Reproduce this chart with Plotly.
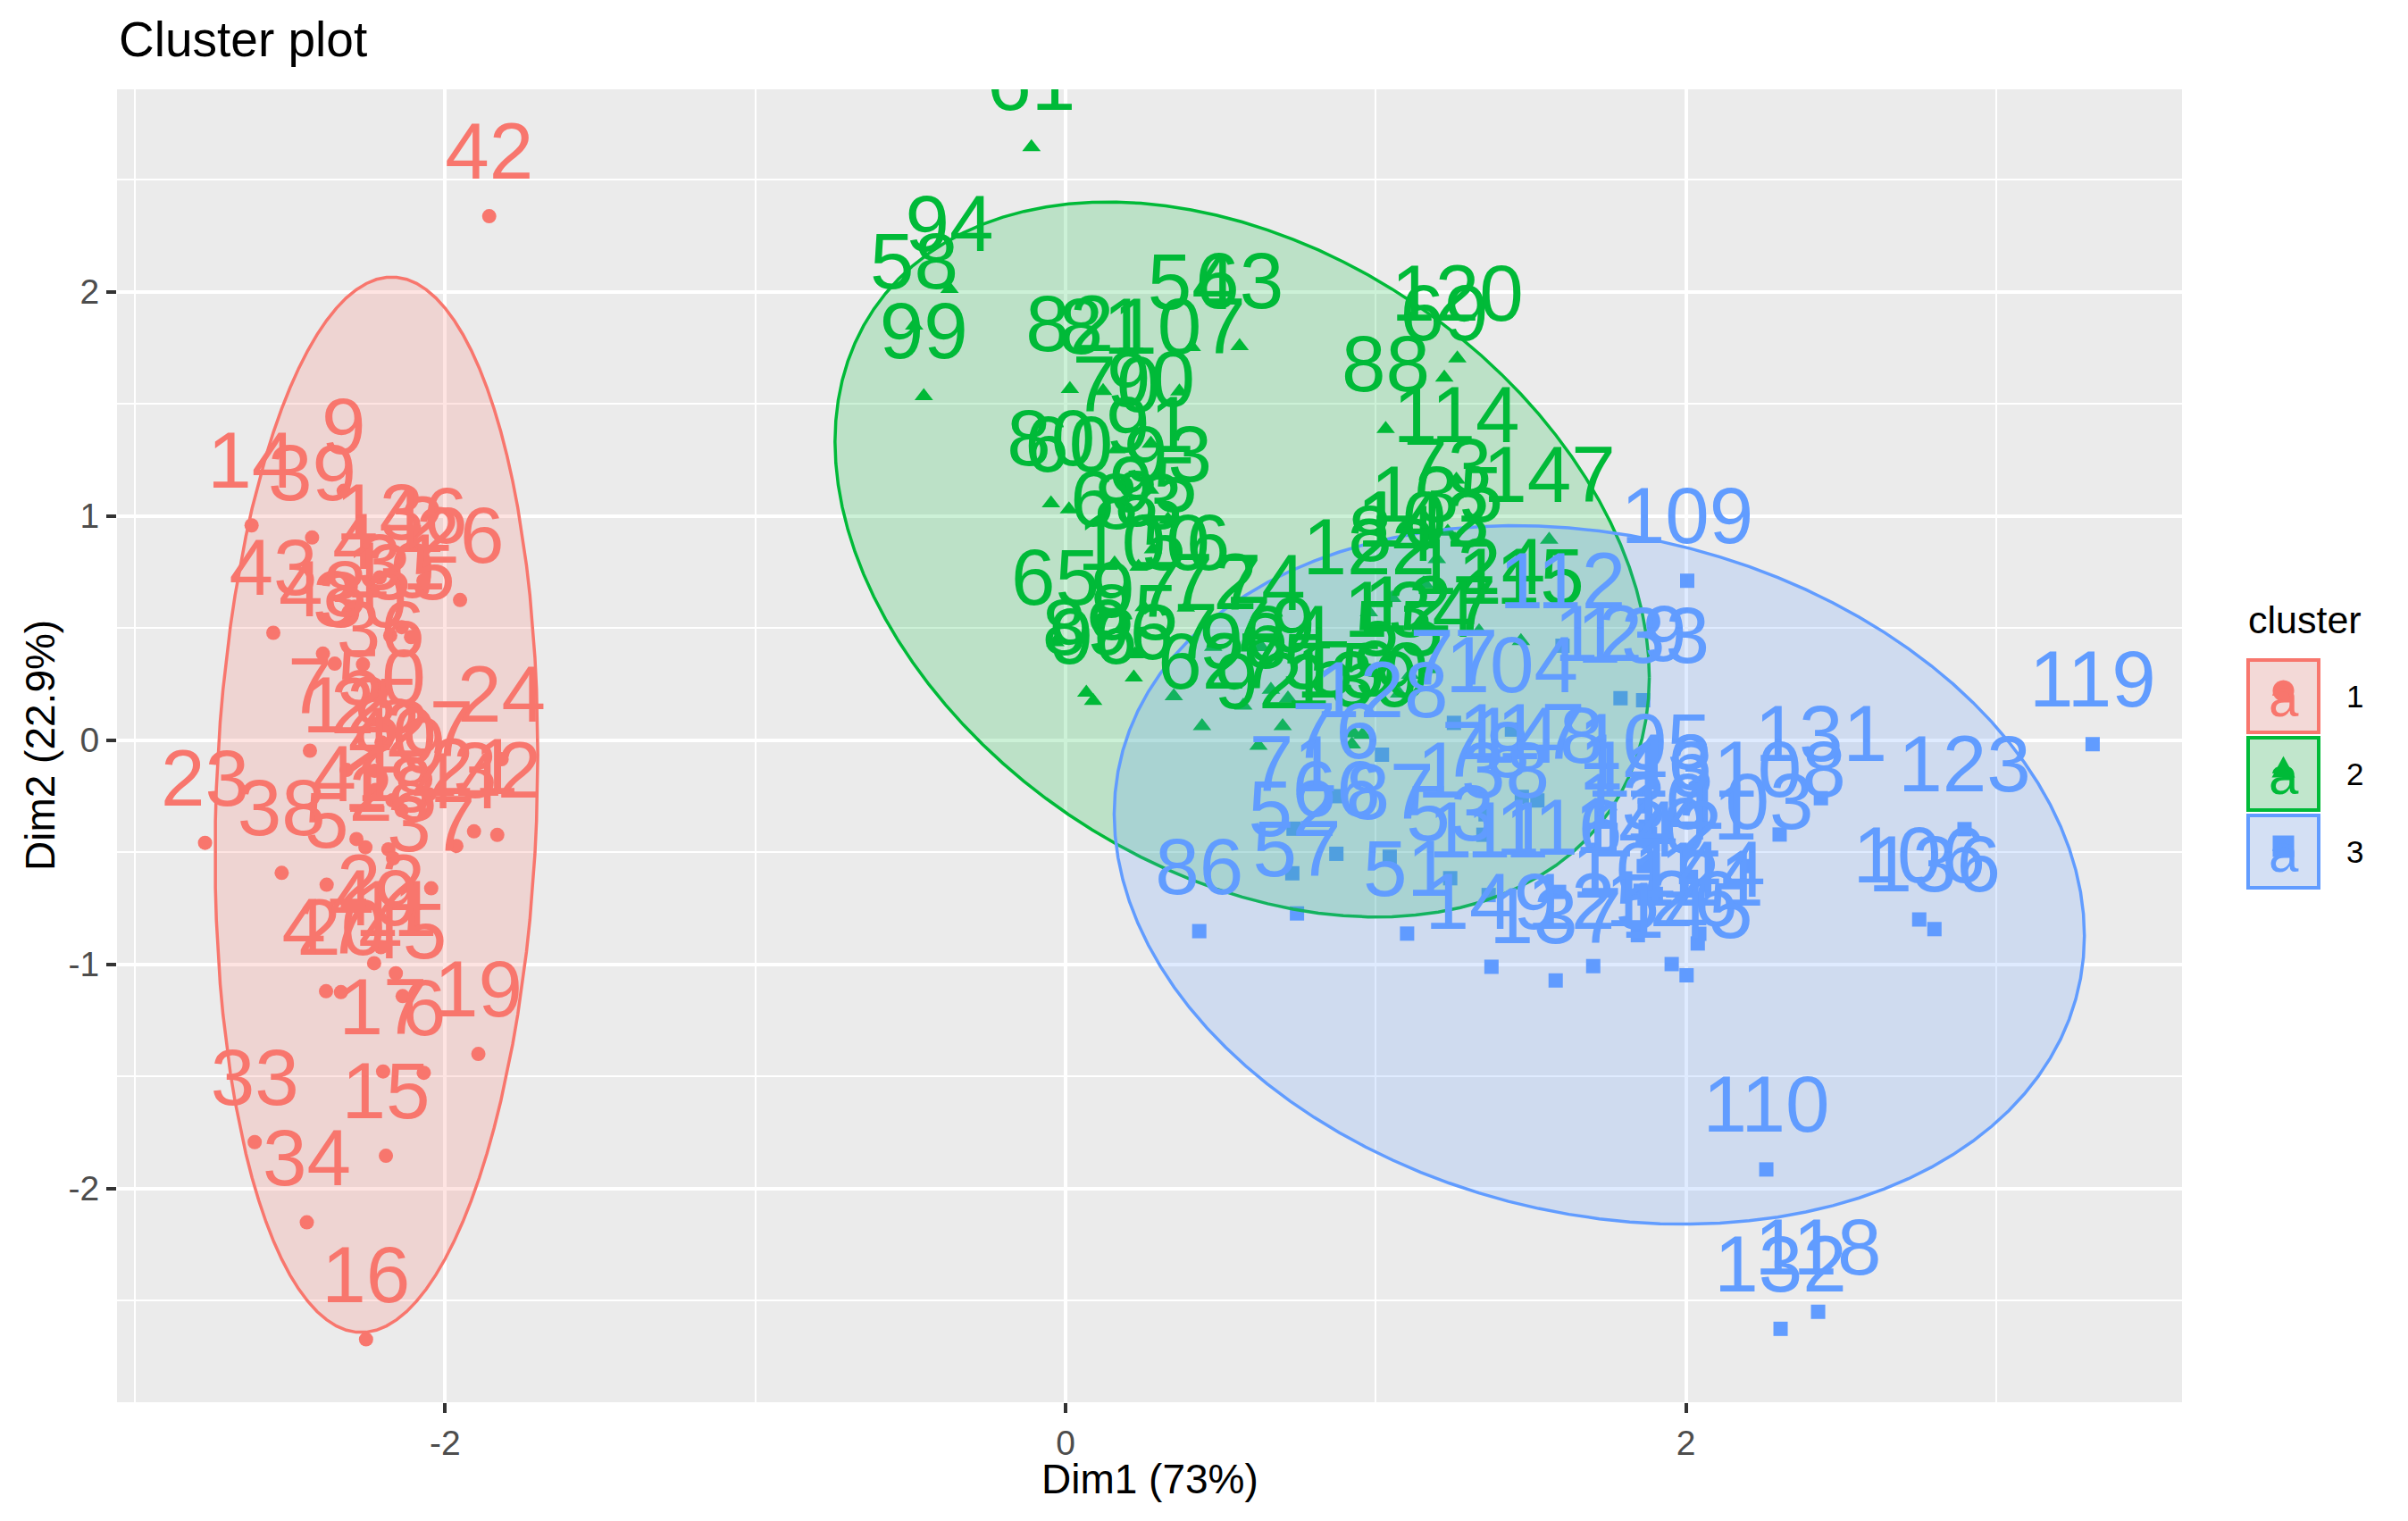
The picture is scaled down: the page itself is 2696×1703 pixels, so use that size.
import numpy as np
import plotly.graph_objects as go

dim1 = [
    -2.257, -2.074, -2.356, -2.292, -2.382, -2.069, -2.436, -2.225, -2.327, -2.177,
    -2.159, -2.318, -2.211, -2.624, -2.191, -2.255, -2.200, -2.183, -1.893, -2.336,
    -1.907, -2.207, -2.774, -1.818, -2.227, -1.952, -2.051, -2.168, -2.140, -2.265,
    -2.140, -1.832, -2.614, -2.446, -2.110, -2.208, -2.045, -2.527, -2.429, -2.170,
    -2.286, -1.858, -2.554, -1.964, -2.137, -2.070, -2.384, -2.394, -2.229, -2.205,
    1.101, 0.731, 1.240, 0.407, 1.075, 0.388, 0.746, -0.488, 0.928, 0.011,
    -0.110, 0.440, 0.561, 0.717, -0.033, 0.873, 0.349, 0.158, 1.221, 0.164,
    0.735, 0.476, 1.232, 0.631, 0.700, 0.871, 1.252, 1.354, 0.662, -0.047,
    0.121, 0.014, 0.235, 1.053, 0.220, 0.431, 1.045, 1.032, 0.067, 0.275,
    0.272, 0.622, 0.330, -0.374, 0.282, 0.089, 0.224, 0.573, -0.457, 0.252,
    1.845, 1.157, 2.198, 1.439, 1.867, 2.752, 0.367, 2.302, 2.004, 2.259,
    1.364, 1.602, 1.884, 1.260, 1.468, 1.591, 1.471, 2.426, 3.311, 1.263,
    2.038, 0.978, 2.898, 1.333, 1.701, 1.954, 1.175, 1.020, 1.789, 1.864,
    2.435, 2.305, 1.862, 1.111, 1.197, 2.801, 1.580, 1.347, 0.923, 1.854,
    2.016, 1.903, 1.153, 2.043, 2.002, 1.870, 1.559, 1.521, 1.373, 0.957,
]
dim2 = [
    -0.478, 0.672, 0.341, 0.595, -0.645, -1.484, -0.047, -0.222, 1.112, 0.467,
    -1.040, -0.133, 0.726, 0.958, -1.854, -2.673, -1.478, -0.487, -1.400, -1.124,
    -0.407, -0.924, -0.458, -0.085, -0.137, 0.625, -0.242, -0.527, -0.313, 0.338,
    0.504, -0.423, -1.793, -2.151, 0.460, 0.206, -0.661, -0.592, 0.904, -0.268,
    -0.441, 2.337, 0.479, -0.472, -1.142, 0.711, -1.120, 0.386, -0.995, -0.010,
    -0.863, -0.594, -0.616, 1.754, 0.208, 0.591, -0.773, 1.849, 0.031, 1.030,
    2.645, 0.063, 1.758, 0.186, 0.437, -0.507, 0.196, 0.789, 1.617, 1.298,
    -0.395, 0.416, 0.930, 0.415, 0.063, -0.250, 0.077, -0.331, 0.225, 1.057,
    1.558, 1.567, 0.774, 0.634, 0.280, -0.852, -0.520, 1.388, 0.212, 1.323,
    1.117, -0.025, 0.985, 2.013, 0.851, 0.175, 0.383, 0.154, 1.535, 0.593,
    -0.870, 0.698, -0.562, 0.047, -0.295, -0.800, 1.556, -0.421, 0.711, -1.915,
    -0.691, 0.421, -0.418, 1.162, 0.442, -0.677, -0.253, -2.550, -0.018, 1.703,
    -0.907, 0.571, -0.397, 0.486, -1.008, -0.999, 0.317, -0.065, 0.187, -0.562,
    -0.259, -2.626, 0.178, 0.292, 0.808, -0.843, -1.072, -0.422, -0.019, -0.672,
    -0.610, -0.686, 0.698, -0.864, -1.049, -0.386, 0.894, -0.269, -1.011, 0.024,
]
cluster = [
    1, 1, 1, 1, 1, 1, 1, 1, 1, 1,
    1, 1, 1, 1, 1, 1, 1, 1, 1, 1,
    1, 1, 1, 1, 1, 1, 1, 1, 1, 1,
    1, 1, 1, 1, 1, 1, 1, 1, 1, 1,
    1, 1, 1, 1, 1, 1, 1, 1, 1, 1,
    3, 3, 3, 2, 2, 2, 3, 2, 2, 2,
    2, 2, 2, 2, 2, 3, 2, 2, 2, 2,
    3, 2, 2, 2, 2, 3, 3, 3, 2, 2,
    2, 2, 2, 2, 2, 3, 3, 2, 2, 2,
    2, 2, 2, 2, 2, 2, 2, 2, 2, 2,
    3, 2, 3, 3, 3, 3, 2, 3, 3, 3,
    3, 3, 3, 2, 2, 3, 3, 3, 3, 2,
    3, 2, 3, 2, 3, 3, 2, 3, 3, 3,
    3, 3, 3, 2, 2, 3, 3, 3, 2, 3,
    3, 3, 2, 3, 3, 3, 2, 3, 3, 2,
]
ids = [str(i + 1) for i in range(len(dim1))]
cluster_names = ["1", "2", "3"]
x_ticks = [-2, 0, 2]
y_ticks = [-2, -1, 0, 1, 2]
x_label = "Dim1 (73%)"
y_label = "Dim2 (22.9%)"

# ---- style ----
FONT = "Liberation Sans, Arial, Helvetica, sans-serif"
COLORS = {1: "#F8766D", 2: "#00BA38", 3: "#619CFF"}
RGB = {1: (248, 118, 109), 2: (0, 186, 56), 3: (97, 156, 255)}
SYMBOLS = {1: "circle", 2: "triangle-up", 3: "square"}
MSIZE = {1: 16, 2: 18, 3: 16}

W, H = 2696, 1703
L, R, T, B = 131, 2443, 100, 1570   # panel pixel box

x = np.array(dim1)
y = np.array(dim2)
cl = np.array(cluster)

fig = go.Figure()

# points
for k in (1, 2, 3):
    m = cl == k
    fig.add_trace(go.Scatter(
        x=x[m], y=y[m], mode="markers",
        marker=dict(symbol=SYMBOLS[k], size=MSIZE[k], color=COLORS[k], line=dict(width=0)),
        hoverinfo="skip", showlegend=False))

# normal-theory 95% ellipses (like stat_ellipse(type = "norm"))
t = np.linspace(0, 2 * np.pi, 101)
unit = np.vstack([np.cos(t), np.sin(t)])
for k in (1, 2, 3):
    m = cl == k
    pts = np.vstack([x[m], y[m]])
    n = pts.shape[1]
    c = pts.mean(axis=1, keepdims=True)
    S = np.cov(pts)
    Lc = np.linalg.cholesky(S)
    d = n - 1
    q = d / 2.0 * (0.05 ** (-2.0 / d) - 1.0)   # qf(0.95, 2, d)
    rad = np.sqrt(2 * q)
    e = c + rad * (Lc @ unit)
    r_, g_, b_ = RGB[k]
    fig.add_trace(go.Scatter(
        x=e[0], y=e[1], mode="lines", fill="toself",
        fillcolor=f"rgba({r_},{g_},{b_},0.2)",
        line=dict(color=COLORS[k], width=3.5),
        hoverinfo="skip", showlegend=False))

# labels (above points, clipped to panel)
for k in (1, 2, 3):
    m = cl == k
    fig.add_trace(go.Scatter(
        x=x[m], y=y[m], mode="markers+text",
        text=[ids[i] for i in np.where(m)[0]],
        textposition="top center",
        textfont=dict(family=FONT, size=89, color=COLORS[k]),
        marker=dict(size=30, opacity=0),
        hoverinfo="skip", showlegend=False, cliponaxis=True))

pw, ph = R - L, B - T
def px(xp):
    return (xp - L) / pw
def py(yp):
    return (B - yp) / ph

xr = [(L - 1193.0) / 347.3, (R - 1193.0) / 347.3]
yr = [(828.7 - B) / 251.0, (828.7 - T) / 251.0]

axis_common = dict(
    showline=False, zeroline=False, showgrid=True,
    gridcolor="white", gridwidth=4,
    ticks="outside", ticklen=11, tickwidth=4, tickcolor="#333333",
    tickfont=dict(family=FONT, size=39, color="#4D4D4D"),
)
fig.update_xaxes(range=xr, tickvals=x_ticks, ticktext=[str(v) for v in x_ticks],
                 minor=dict(tickvals=[-3, -1, 1, 3], showgrid=True, gridcolor="white",
                            gridwidth=2, ticks=""),
                 **axis_common)
fig.update_yaxes(range=yr, tickvals=y_ticks, ticktext=[str(v) for v in y_ticks],
                 minor=dict(tickvals=[-2.5, -1.5, -0.5, 0.5, 1.5, 2.5], showgrid=True,
                            gridcolor="white", gridwidth=2, ticks=""),
                 **axis_common)

annotations = [
    dict(text="Cluster plot", x=0, y=py(44), xref="paper", yref="paper",
         xanchor="left", yanchor="middle", showarrow=False,
         font=dict(family=FONT, size=55, color="black")),
    dict(text=x_label, x=0.5, y=py(1656), xref="paper", yref="paper",
         xanchor="center", yanchor="middle", showarrow=False,
         font=dict(family=FONT, size=46, color="black")),
    dict(text=y_label, x=px(45), y=0.5, xref="paper", yref="paper",
         xanchor="center", yanchor="middle", showarrow=False, textangle=-90,
         font=dict(family=FONT, size=46, color="black")),
    dict(text="cluster", x=px(2515), y=py(694), xref="paper", yref="paper",
         xanchor="left", yanchor="middle", showarrow=False,
         font=dict(family=FONT, size=43, color="black")),
]
shapes = []
key_tops = [737, 824, 911]
kx0, kx1 = 2515, 2598
for i, k in enumerate((1, 2, 3)):
    ky0 = key_tops[i]
    ky1 = ky0 + 85
    cx, cy = (kx0 + kx1) / 2, (ky0 + ky1) / 2
    r_, g_, b_ = RGB[k]
    shapes.append(dict(type="rect", xref="paper", yref="paper",
                       x0=px(kx0), x1=px(kx1), y0=py(ky1), y1=py(ky0),
                       fillcolor="#F2F2F2", line=dict(width=0), layer="above"))
    shapes.append(dict(type="rect", xref="paper", yref="paper",
                       x0=px(kx0 + 2), x1=px(kx1 - 2), y0=py(ky1 - 2), y1=py(ky0 + 2),
                       fillcolor=f"rgba({r_},{g_},{b_},0.2)",
                       line=dict(color=COLORS[k], width=4), layer="above"))
    s = 12
    if k == 1:
        shapes.append(dict(type="circle", xref="paper", yref="paper",
                           x0=px(cx - s), x1=px(cx + s), y0=py(cy - 6 + s), y1=py(cy - 6 - s),
                           fillcolor=COLORS[k], line=dict(width=0), layer="above"))
    elif k == 2:
        path = (f"M {px(cx - 13)},{py(cy + 4)} L {px(cx + 13)},{py(cy + 4)} "
                f"L {px(cx)},{py(cy - 20)} Z")
        shapes.append(dict(type="path", xref="paper", yref="paper", path=path,
                           fillcolor=COLORS[k], line=dict(width=0), layer="above"))
    else:
        shapes.append(dict(type="rect", xref="paper", yref="paper",
                           x0=px(cx - 12), x1=px(cx + 12), y0=py(cy + 6), y1=py(cy - 18),
                           fillcolor=COLORS[k], line=dict(width=0), layer="above"))
    annotations.append(dict(text="a", x=px(cx), y=py(cy + 2), xref="paper", yref="paper",
                            xanchor="center", yanchor="middle", showarrow=False,
                            font=dict(family=FONT, size=60, color=COLORS[k])))
    annotations.append(dict(text=cluster_names[i], x=px(2625), y=py(cy), xref="paper",
                            yref="paper", xanchor="left", yanchor="middle", showarrow=False,
                            font=dict(family=FONT, size=35, color="black")))

fig.update_layout(
    width=W, height=H,
    margin=dict(l=L, r=W - R, t=T, b=H - B, pad=0),
    paper_bgcolor="white", plot_bgcolor="#EBEBEB",
    showlegend=False,
    annotations=annotations, shapes=shapes,
    font=dict(family=FONT),
)

fig.write_html("out.html")
